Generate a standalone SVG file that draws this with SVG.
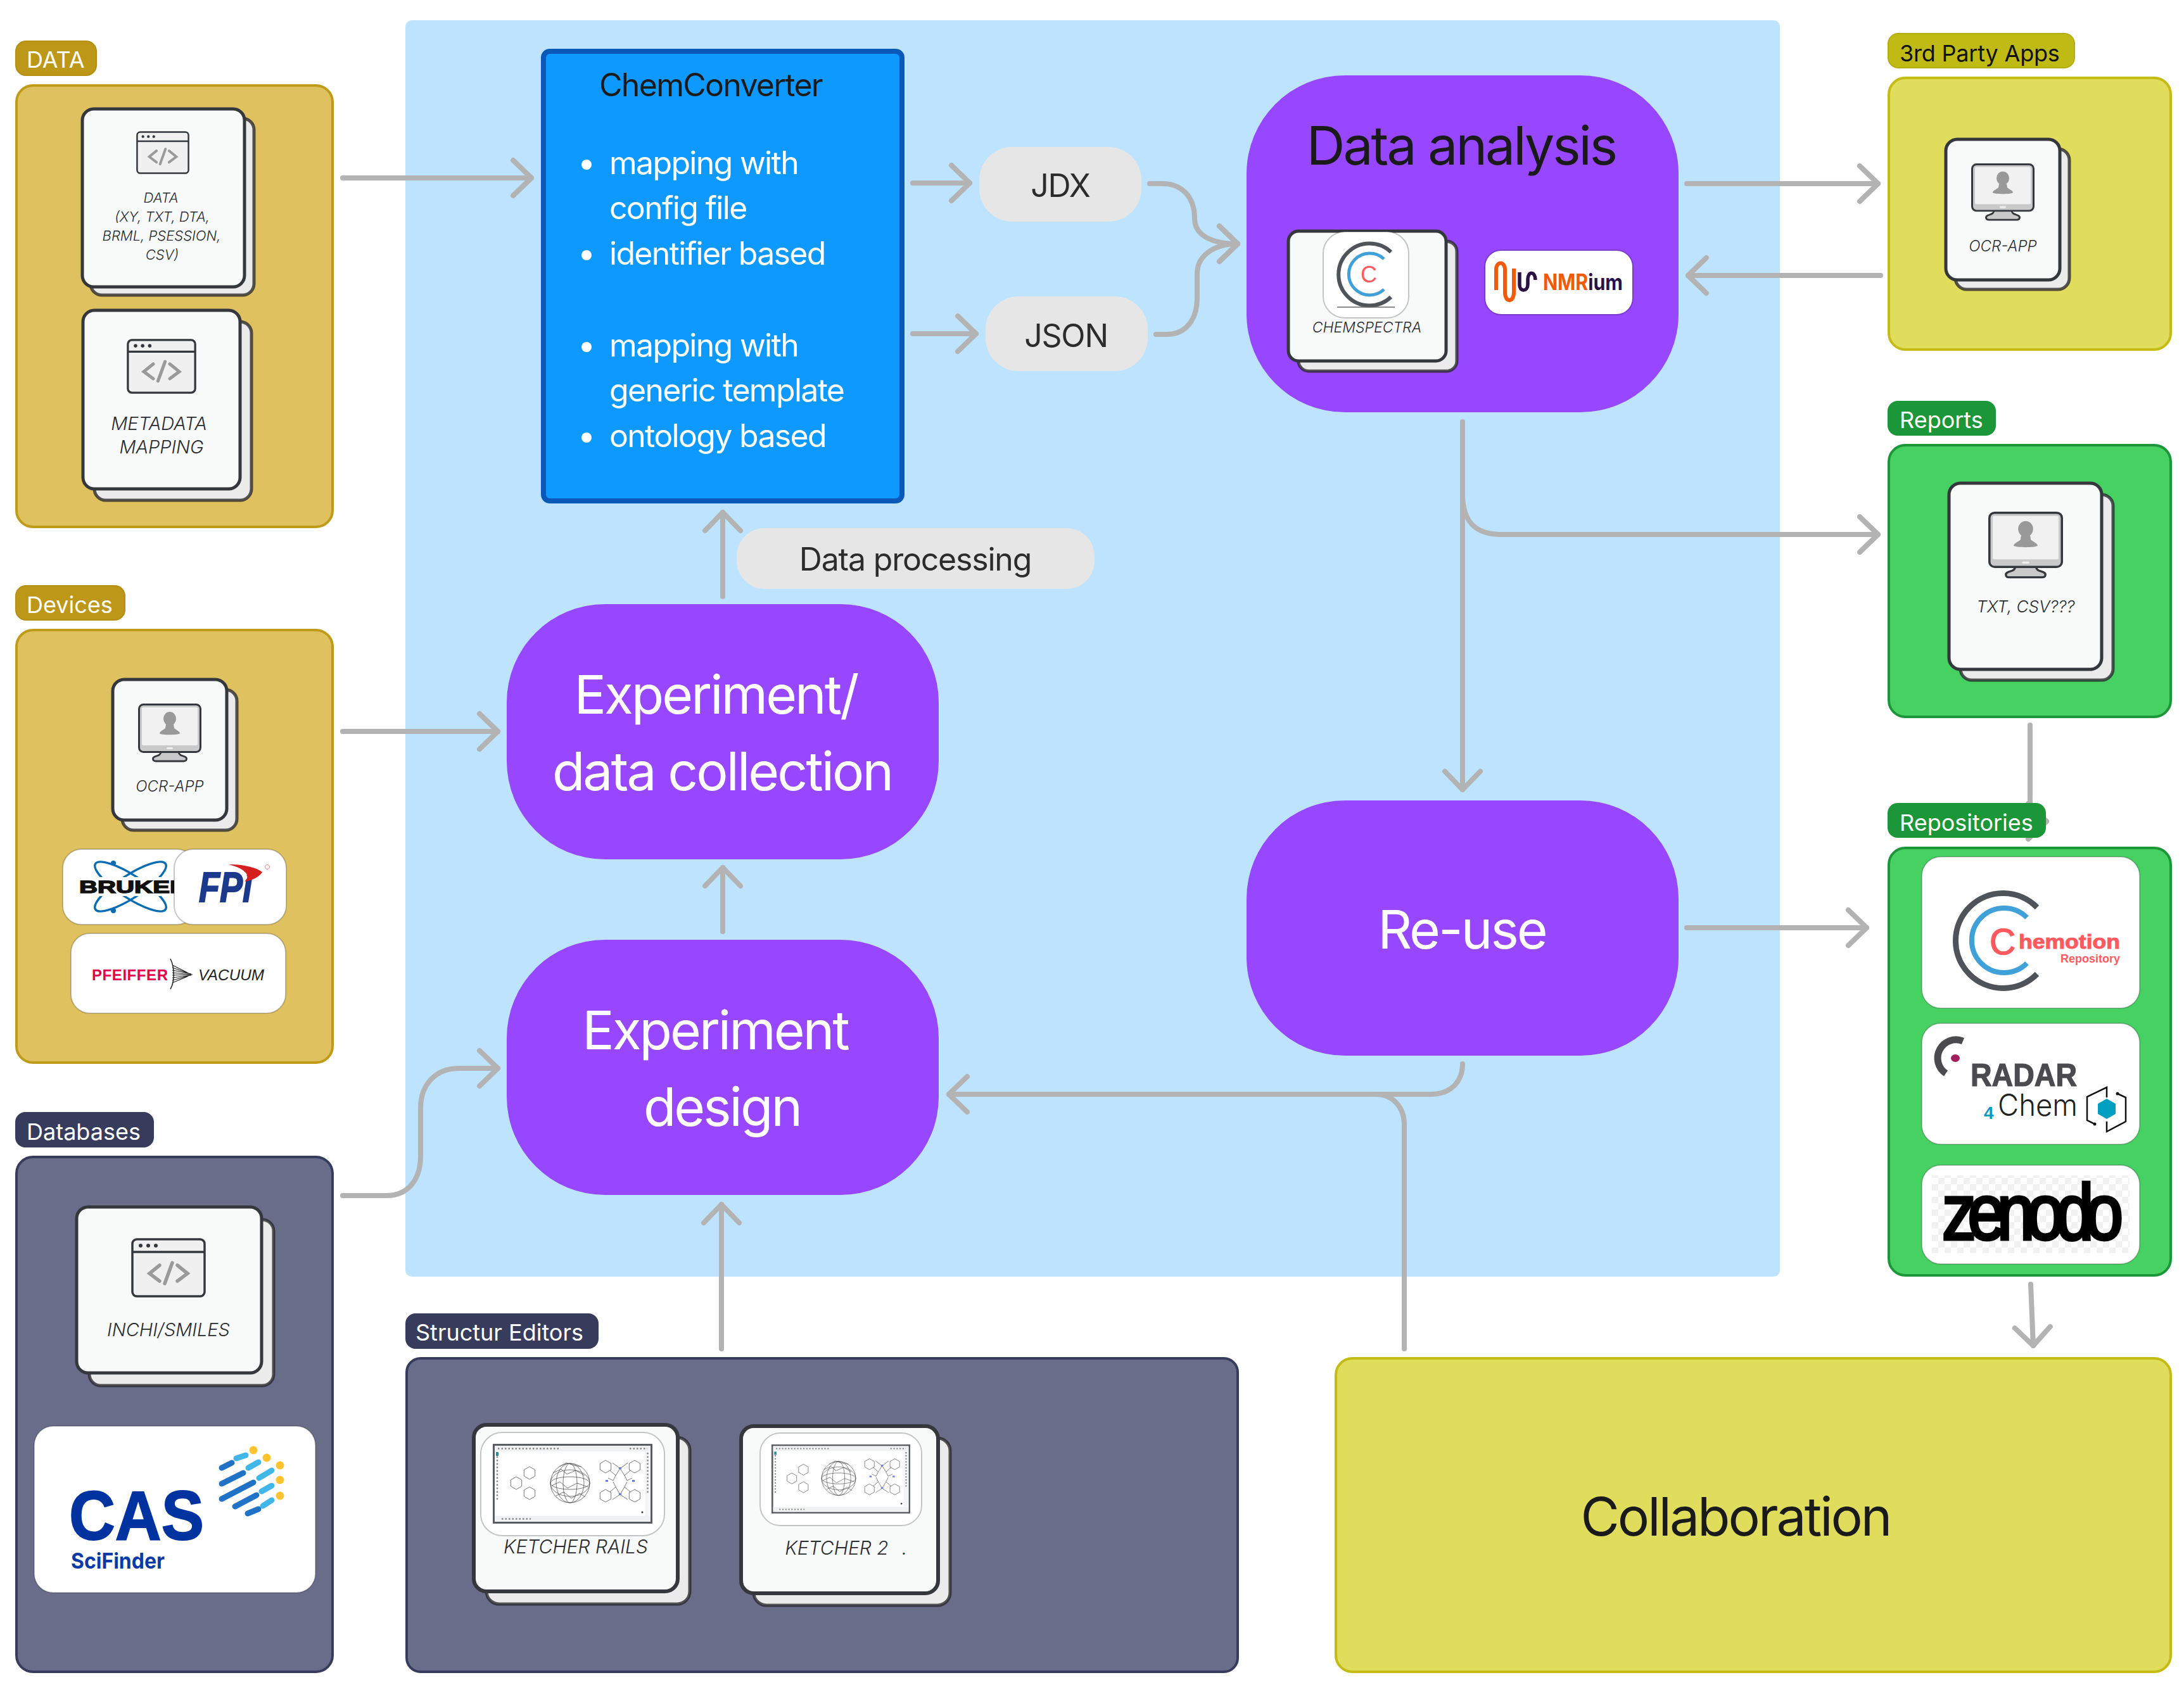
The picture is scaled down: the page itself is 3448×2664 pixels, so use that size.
<svg xmlns="http://www.w3.org/2000/svg" xmlns:xlink="http://www.w3.org/1999/xlink" width="3448" height="2664" viewBox="0 0 3448 2664">
<style>
text{font-family:"Inter","Liberation Sans",sans-serif}
.m{text-anchor:middle}
.tag{font-size:36px;fill:#fff}
.tagd{font-size:36px;fill:#111;letter-spacing:-.2px}
.cap{font-style:italic;font-weight:300;fill:#2a2c30;text-anchor:middle}
.box{stroke-width:4}
.gold{fill:#dfc25f;stroke:#bf9b18}.goldt{fill:#bd9818;stroke:#b39012;stroke-width:2}
.slate{fill:#696d8a;stroke:#383c5c}.slatet{fill:#383c5c}
.lime{fill:#e0dc5c;stroke:#c4bb14}.limet{fill:#c0bb14;stroke:#b3ae10;stroke-width:2}
.green{fill:#47d163;stroke:#1c9638}.greent{fill:#1b9638}
.proc{fill:#9747ff}
.ptext{font-size:84px;fill:#fff;text-anchor:middle;letter-spacing:-3px}
.pill{fill:#e6e6e6}
.ptx{font-size:50px;fill:#2c2c2c;text-anchor:middle;letter-spacing:-1.200px}
.back{fill:#ebebeb;stroke:#26262a;stroke-opacity:.78;stroke-width:5}
.front{fill:#f8fafa;stroke:#34373c;stroke-width:5}
.chip{fill:#fff;stroke:#000;stroke-opacity:.22;stroke-width:2}
.bul{font-size:50px;fill:#fff;letter-spacing:-1.700px}
.bd{fill:#fff}
.conn path{fill:none;stroke:#b3b3b3;stroke-width:8;stroke-linecap:round;stroke-linejoin:round}
.ar{marker-end:url(#arrow)}
.mol{fill:none;stroke:#555;stroke-width:.8}
</style>
<defs>
<marker id="arrow" markerUnits="userSpaceOnUse" viewBox="-36 -36 44 72" refX="0" refY="0" markerWidth="44" markerHeight="72" orient="auto">
<path d="M-29 -28L0 0L-29 28" fill="none" stroke="#b3b3b3" stroke-width="8" stroke-linecap="round" stroke-linejoin="round"/>
</marker>
<pattern id="check" width="20" height="20" patternUnits="userSpaceOnUse"><rect width="20" height="20" fill="#fff"/><rect width="10" height="10" fill="#f1f1f1"/><rect x="10" y="10" width="10" height="10" fill="#f1f1f1"/></pattern>
<symbol id="code" viewBox="0 0 118 94" preserveAspectRatio="none">
<rect x="2" y="2" width="114" height="90" rx="7" fill="#f0f0f0" stroke="#34373c" stroke-width="3.500"/>
<path d="M2 22H116" stroke="#34373c" stroke-width="3.500"/>
<circle cx="15" cy="12" r="3" fill="#34373c"/><circle cx="27" cy="12" r="3" fill="#34373c"/><circle cx="39" cy="12" r="3" fill="#34373c"/>
<path d="M45 43L29 56L45 68M73 43L89 56L73 68M65 39L53 72" fill="none" stroke="#9a9a9a" stroke-width="5.500" stroke-linecap="round"/>
</symbol>
<symbol id="monitor" viewBox="0 0 100 93" preserveAspectRatio="none">
<path d="M36 76C36 82 30 82 26 84C22 86 23 91 28 91H72C77 91 78 86 74 84C70 82 64 82 64 76Z" fill="#c9c9c9" stroke="#34373c" stroke-width="2.800"/>
<rect x="1.500" y="1.500" width="97" height="75" rx="7" fill="#c9c9c9" stroke="#34373c" stroke-width="3"/>
<rect x="6" y="6" width="88" height="60" rx="2" fill="#f1f1f1"/>
<rect x="45" y="69" width="10" height="3" rx="1.500" fill="#eee"/>
<ellipse cx="50" cy="24" rx="10" ry="11" fill="#999"/>
<path d="M44 33L43 39C38 43 34 44 34 47C34 50 66 50 66 47C66 44 62 43 57 39L56 33Z" fill="#999"/>
</symbol>
<path id="hex" d="M0 -10L8.700 -5V5L0 10L-8.700 5V-5Z"/>
<symbol id="ketcher" viewBox="0 0 252 126" preserveAspectRatio="none">
<rect x="1.500" y="1.500" width="249" height="123" fill="#fff" stroke="#5a5c64" stroke-width="3"/>
<rect x="3" y="3" width="246" height="9" fill="#f0f1f3"/>
<rect x="3" y="114" width="246" height="9" fill="#f0f1f3"/>
<rect x="240" y="12" width="9" height="102" fill="#f5f5f7"/>
<path d="M8 7.500H105M216 7.500H244M14 118.500H60" stroke="#888" stroke-width="2.500" stroke-dasharray="2.500 3" fill="none"/>
<path d="M7 14V90M244.500 14V80" stroke="#888" stroke-width="2.500" stroke-dasharray="2.500 3" fill="none"/>
<rect x="5" y="13" width="4" height="6" fill="#2a8b94"/>
<g class="mol">
<use href="#hex" x="58" y="46"/><use href="#hex" x="37" y="62"/><use href="#hex" x="58" y="78"/>
<circle cx="122" cy="62" r="31"/>
<ellipse cx="122" cy="62" rx="22" ry="31"/><ellipse cx="122" cy="62" rx="11" ry="31"/>
<ellipse cx="122" cy="62" rx="31" ry="21"/><ellipse cx="122" cy="62" rx="31" ry="10"/>
<path d="M95 46L108 40L117 48L131 42L145 50M93 66L106 60L118 70L133 62L150 68M100 82L112 76L124 86L137 78L146 84M105 36L116 30L128 34L140 36"/>
<use href="#hex" x="178" y="36"/><use href="#hex" x="224" y="36"/><use href="#hex" x="178" y="82"/><use href="#hex" x="224" y="82"/>
<path d="M185 42L194 50L190 58L182 54M217 42L208 50L212 58L220 54M185 76L194 68L190 60M217 76L208 68L212 60M189 30L201 39L213 30M189 88L201 80L213 88M194 50L201 39L208 50M194 68L201 80L208 68"/>
</g>
<g fill="#6a7df0"><rect x="199" y="37" width="4" height="3"/><rect x="199" y="78" width="4" height="3"/><rect x="178" y="57" width="4" height="3"/><rect x="220" y="57" width="4" height="3"/></g>
<circle cx="236" cy="108" r="1.500" fill="#333"/>
</symbol>
</defs>

<rect width="3448" height="2664" fill="#fff"/>
<rect id="main-area" x="640" y="32" width="2170" height="1984" rx="10" fill="#bde3ff"/>

<g id="chemconverter">
<rect x="858" y="81" width="566" height="710" rx="10" fill="#0d99ff" stroke="#0a58b8" stroke-width="8"/>
<text x="946" y="152" font-size="50" fill="#1a1a1a" letter-spacing="-1.700">ChemConverter</text>
<g class="bd"><circle cx="926" cy="260" r="8"/><circle cx="926" cy="403" r="8"/><circle cx="926" cy="548" r="8"/><circle cx="926" cy="691" r="8"/></g>
<g class="bul">
<text x="962" y="275">mapping with</text><text x="962" y="346">config file</text><text x="962" y="418">identifier based</text>
<text x="962" y="563">mapping with</text><text x="962" y="634">generic template</text><text x="962" y="706">ontology based</text>
</g>
</g>
<g id="jdx"><rect class="pill" x="1546" y="232" width="256" height="118" rx="52"/><text class="ptx" x="1674" y="311">JDX</text></g>
<g id="json"><rect class="pill" x="1556" y="468" width="256" height="118" rx="52"/><text class="ptx" x="1683" y="548">JSON</text></g>
<g id="data-processing"><rect class="pill" x="1163" y="834" width="565" height="96" rx="44"/><text class="ptx" x="1445" y="901">Data processing</text></g>

<g id="experiment"><rect class="proc" x="800" y="954" width="682" height="403" rx="155"/><text class="ptext" x="1130" y="1127">Experiment/</text><text class="ptext" x="1140" y="1248">data collection</text></g>
<g id="design"><rect class="proc" x="800" y="1484" width="682" height="403" rx="155"/><text class="ptext" x="1129" y="1657">Experiment</text><text class="ptext" x="1140" y="1778">design</text></g>
<g id="reuse"><rect class="proc" x="1968" y="1264" width="682" height="403" rx="155"/><text class="ptext" x="2308" y="1498">Re-use</text></g>
<g id="analysis">
<rect class="proc" x="1968" y="119" width="682" height="532" rx="155"/>
<text class="ptext" style="fill:#1a1a1a" x="2307" y="260">Data analysis</text>
<rect class="back" x="2050" y="381" width="250" height="205" rx="16"/>
<rect class="front" x="2034" y="365" width="249" height="205" rx="16"/>
<rect class="chip" x="2089" y="366" width="135" height="136" rx="34"/>
<path d="M2196 398A49 49 0 1 0 2196 469" fill="none" stroke="#4e5459" stroke-width="6"/>
<path d="M2185 409A33 33 0 1 0 2185 457" fill="none" stroke="#3fa1d8" stroke-width="5"/>
<text x="2161" y="446" class="m" font-size="36" fill="#ff5a5f" style="font-family:'Liberation Sans',sans-serif">C</text>
<path d="M2111 485H2202" stroke="#666" stroke-width="1.500"/>
<text class="cap" x="2158" y="525" font-size="23">CHEMSPECTRA</text>
<rect x="2344" y="395" width="234" height="102" rx="26" fill="#fff" stroke="#7a3bcc" stroke-width="2"/>
<path d="M2362 458V426C2362 412 2376 412 2376 426V462C2376 478 2390 478 2390 462V424" fill="none" stroke="#f05a0a" stroke-width="6"/>
<path d="M2399 430V450C2399 461 2412 461 2412 449V441C2412 428 2424 428 2424 442" fill="none" stroke="#2a1245" stroke-width="5.500"/>
<text x="2436" y="458" font-size="35" font-weight="700" textLength="126" lengthAdjust="spacingAndGlyphs"><tspan fill="#f05a0a">NMR</tspan><tspan fill="#2a1245">ium</tspan></text>
</g>

<g id="connectors" class="conn">
<path class="ar" d="M541 281H839"/>
<path class="ar" d="M1441 289H1531"/>
<path class="ar" d="M1441 527H1541"/>
<path class="ar" d="M1815 290H1835C1865 290 1886 310 1886 345C1886 370 1910 385 1954 385"/>
<path class="ar" d="M1825 528H1842C1872 528 1890 505 1890 470V432C1890 405 1915 385 1954 385"/>
<path class="ar" d="M1141 942V809"/>
<path class="ar" d="M1141 1471V1370"/>
<path class="ar" d="M1139 2130V1902"/>
<path class="ar" d="M541 1155H786"/>
<path class="ar" d="M541 1888H610C645 1888 664 1862 664 1825V1750C664 1712 688 1687 725 1687H786"/>
<path class="ar" d="M2663 290H2965"/>
<path class="ar" d="M2969 435H2665"/>
<path class="ar" d="M2309 666V1247"/>
<path class="ar" d="M2309 780C2309 825 2330 844 2370 844H2965"/>
<path class="ar" d="M2663 1465H2947"/>
<path class="ar" d="M2309 1680C2309 1708 2290 1728 2260 1728H1498"/>
<path d="M2217 2130V1775C2217 1750 2200 1728 2172 1728"/>
<path class="ar" d="M3205 1145V1262C3205 1285 3215 1297 3231 1297"/>
<path class="ar" d="M3206 2028L3210 2125"/>
</g>

<g id="data-group">
<rect class="box gold" x="26" y="135" width="499" height="697" rx="26"/>
<rect class="goldt" x="25" y="65" width="127" height="54" rx="16"/>
<text class="tag" x="42" y="107">DATA</text>
<rect class="back" x="143" y="187" width="258" height="279" rx="18"/>
<rect class="front" x="130" y="172" width="256" height="281" rx="18"/>
<use href="#code" x="215" y="207" width="84" height="68"/>
<g class="cap" font-size="22"><text x="254" y="320">DATA</text><text x="256" y="350">(XY, TXT, DTA,</text><text x="255" y="380">BRML, PSESSION,</text><text x="256" y="410">CSV)</text></g>
<rect class="back" x="149" y="508" width="248" height="282" rx="18"/>
<rect class="front" x="131" y="490" width="248" height="282" rx="18"/>
<use href="#code" x="200" y="535" width="110" height="87"/>
<g class="cap" font-size="29"><text x="251" y="679">METADATA</text><text x="255" y="716">MAPPING</text></g>
</g>

<g id="devices-group">
<rect class="box gold" x="26" y="995" width="499" height="683" rx="26"/>
<rect class="goldt" x="25" y="925" width="172" height="54" rx="16"/>
<text class="tag" x="42" y="968">Devices</text>
<rect class="back" x="193" y="1089" width="181" height="222" rx="18"/>
<rect class="front" x="178" y="1073" width="180" height="222" rx="18"/>
<use href="#monitor" x="218" y="1111" width="100" height="93"/>
<text class="cap" x="268" y="1250" font-size="24">OCR-APP</text>
<rect class="chip" x="99" y="1341" width="210" height="119" rx="30"/>
<g fill="none" stroke="#0a6db3" stroke-width="3.500"><ellipse cx="206" cy="1400" rx="66" ry="18" transform="rotate(33 206 1400)"/><ellipse cx="206" cy="1400" rx="66" ry="18" transform="rotate(-33 206 1400)"/></g>
<circle cx="179" cy="1363" r="4" fill="#0a6db3"/><circle cx="179" cy="1438" r="4" fill="#0a6db3"/>
<rect x="125" y="1385" width="170" height="30" fill="#fff"/>
<text x="125" y="1410" font-size="28" font-weight="700" fill="#111" stroke="#111" stroke-width="1.500" textLength="172" lengthAdjust="spacingAndGlyphs" style="font-family:'Liberation Sans',sans-serif">BRUKER</text>
<rect class="chip" x="275" y="1341" width="177" height="119" rx="30"/>
<text x="314" y="1424" font-size="66" font-weight="700" font-style="italic" fill="#1c3a8c" stroke="#1c3a8c" stroke-width="2" textLength="84" lengthAdjust="spacingAndGlyphs" style="font-family:'Liberation Sans',sans-serif">FPi</text>
<path d="M361 1365C388 1365 406 1371 414 1377C410 1385 396 1391 386 1392C396 1385 390 1372 361 1365Z" fill="#d62020"/>
<circle cx="422" cy="1369" r="3.500" fill="none" stroke="#e88" stroke-width="1"/>
<rect class="chip" x="112" y="1474" width="339" height="126" rx="30"/>
<text x="145" y="1548" font-size="24" font-weight="700" fill="#e6004c" textLength="120" style="font-family:'Liberation Sans',sans-serif">PFEIFFER</text>
<path d="M269 1514C276 1528 276 1550 269 1562" fill="none" stroke="#222" stroke-width="1.500"/>
<g stroke="#222" stroke-width="1.200"><path d="M272 1524L296 1536M272 1528L298 1537M272 1532L302 1538M272 1536L304 1539M272 1540L304 1539M272 1544L302 1540M272 1548L298 1541M272 1552L296 1542"/></g>
<text x="313" y="1548" font-size="24" font-style="italic" fill="#222" textLength="104" lengthAdjust="spacingAndGlyphs" style="font-family:'Liberation Sans',sans-serif">VACUUM</text>
</g>

<g id="databases-group">
<rect class="box slate" x="26" y="1827" width="499" height="813" rx="26"/>
<rect class="slatet" x="24" y="1756" width="219" height="56" rx="16"/>
<text class="tag" x="42" y="1800">Databases</text>
<rect class="back" x="141" y="1926" width="291" height="262" rx="18"/>
<rect class="front" x="121" y="1906" width="292" height="262" rx="18"/>
<use href="#code" x="207" y="1955" width="118" height="94"/>
<text class="cap" x="266" y="2110" font-size="29">INCHI/SMILES</text>
<rect class="chip" x="54" y="2252" width="444" height="263" rx="30"/>
<text x="109" y="2431" font-size="110" font-weight="700" fill="#0033a0" stroke="#0033a0" stroke-width="2" textLength="213" lengthAdjust="spacingAndGlyphs" style="font-family:'Liberation Sans',sans-serif">CAS</text>
<text x="112" y="2477" font-size="34" font-weight="700" fill="#0a3aa5" textLength="148" lengthAdjust="spacingAndGlyphs">SciFinder</text>
<g fill="none" stroke-width="9" stroke-linecap="round">
<path stroke="#1f72c6" d="M350 2318L366 2310M350 2343L384 2326M350 2367L400 2341M371 2379L405 2361M391 2390L408 2383"/>
<path stroke="#41b6e8" d="M373 2303L388 2298M392 2318L408 2309M409 2334L429 2322M413 2355L429 2346M415 2378L429 2369"/>
</g>
<g fill="#fec32d"><circle cx="400" cy="2290" r="6.500"/><circle cx="421" cy="2302" r="6.500"/><circle cx="442" cy="2314" r="6.500"/><circle cx="442" cy="2337" r="6.500"/><circle cx="442" cy="2362" r="6.500"/></g>
</g>

<g id="editors-group">
<rect class="box slate" x="642" y="2145" width="1312" height="495" rx="22"/>
<rect class="slatet" x="640" y="2074" width="305" height="56" rx="16"/>
<text class="tag" x="656" y="2117">Structur Editors</text>
<rect class="back" x="768" y="2270" width="321" height="263" rx="20"/>
<rect class="front" x="748" y="2250" width="322" height="263" rx="20" style="stroke-width:6"/>
<rect class="chip" x="759" y="2262" width="290" height="163" rx="34"/>
<use href="#ketcher" x="778" y="2280" width="252" height="126"/>
<text class="cap" x="909" y="2453" font-size="30">KETCHER RAILS</text>
<rect class="back" x="1190" y="2271" width="310" height="264" rx="20"/>
<rect class="front" x="1170" y="2252" width="311" height="264" rx="20" style="stroke-width:6"/>
<rect class="chip" x="1200" y="2263" width="255" height="146" rx="32"/>
<use href="#ketcher" x="1218" y="2281" width="219" height="109"/>
<text class="cap" x="1321" y="2455" font-size="30">KETCHER 2</text>
<text class="cap" x="1428" y="2455" font-size="30">.</text>
</g>

<g id="collaboration">
<rect class="box lime" x="2109" y="2145" width="1318" height="495" rx="26"/>
<text x="2740" y="2425" class="m" font-size="84" fill="#1a1a1a" letter-spacing="-3">Collaboration</text>
</g>

<g id="third-party-group">
<rect class="box lime" x="2982" y="123" width="445" height="429" rx="26"/>
<rect class="limet" x="2981" y="53" width="294" height="54" rx="16"/>
<text class="tagd" x="2999" y="97">3rd Party Apps</text>
<rect class="back" x="3087" y="235" width="180" height="222" rx="18"/>
<rect class="front" x="3072" y="220" width="180" height="222" rx="18"/>
<use href="#monitor" x="3112" y="258" width="100" height="91"/>
<text class="cap" x="3162" y="397" font-size="24">OCR-APP</text>
</g>

<g id="reports-group">
<rect class="box green" x="2982" y="703" width="445" height="429" rx="26"/>
<rect class="greent" x="2980" y="633" width="171" height="55" rx="16"/>
<text class="tag" x="2999" y="676">Reports</text>
<rect class="back" x="3095" y="781" width="241" height="293" rx="18"/>
<rect class="front" x="3077" y="763" width="241" height="294" rx="18"/>
<use href="#monitor" x="3139" y="808" width="118" height="106"/>
<text class="cap" x="3198" y="967" font-size="26">TXT, CSV???</text>
</g>

<g id="repositories-group">
<rect class="box green" x="2982" y="1339" width="445" height="675" rx="26"/>
<rect class="greent" x="2980" y="1268" width="250" height="55" rx="16"/>
<text class="tag" x="2999" y="1312">Repositories</text>
<rect class="chip" x="3034" y="1353" width="344" height="239" rx="30"/>
<path d="M3216 1433A75 75 0 1 0 3216 1538" fill="none" stroke="#4e5459" stroke-width="9"/>
<path d="M3200 1449A51 51 0 1 0 3200 1521" fill="none" stroke="#3fa1d8" stroke-width="8"/>
<g fill="#ff5a5f">
<text x="3141" y="1507" font-size="57" stroke="#ff5a5f" stroke-width="1.500" style="font-family:'Liberation Sans',sans-serif">C</text>
<text x="3187" y="1498" font-size="32" font-weight="700" stroke="#ff5a5f" stroke-width="1" textLength="160" lengthAdjust="spacingAndGlyphs" style="font-family:'Liberation Sans',sans-serif">hemotion</text>
<text x="3253" y="1520" font-size="18" font-weight="700" textLength="94" lengthAdjust="spacingAndGlyphs" style="font-family:'Liberation Sans',sans-serif">Repository</text>
</g>
<rect class="chip" x="3034" y="1616" width="344" height="191" rx="30"/>
<path d="M3099 1644A29 29 0 0 0 3072 1695" fill="none" stroke="#4a4a4f" stroke-width="11"/>
<ellipse cx="3087" cy="1671" rx="7" ry="6" fill="#a21f5a"/>
<text x="3111" y="1715" font-size="50" font-weight="700" fill="#4a4a4f" stroke="#4a4a4f" stroke-width="1.200" textLength="168" lengthAdjust="spacingAndGlyphs" style="font-family:'Liberation Sans',sans-serif">RADAR</text>
<text x="3132" y="1767" font-size="28" font-weight="700" fill="#0a9bc0" style="font-family:'Liberation Sans',sans-serif">4</text>
<text x="3154" y="1762" font-size="48" font-weight="300" fill="#222" textLength="126" lengthAdjust="spacingAndGlyphs">Chem</text>
<polygon points="3326,1735 3340,1743 3340,1759 3326,1767 3312,1759 3312,1743" fill="#009fc2"/>
<path d="M3326 1733V1717L3295 1732V1769L3307 1775M3326 1771V1787L3356 1771V1733L3343 1727" fill="none" stroke="#111" stroke-width="2.500"/>
<circle cx="3343" cy="1727" r="2.500" fill="#111"/><circle cx="3307" cy="1775" r="2.500" fill="#111"/>
<rect class="chip" x="3034" y="1840" width="344" height="156" rx="30"/>
<rect x="3050" y="1856" width="312" height="123" fill="url(#check)"/>
<text transform="translate(3066 1957) scale(.86 1)" font-size="125" letter-spacing="-15.500" fill="#000" stroke="#000" stroke-width="5" style="font-family:'Liberation Sans',sans-serif">zenodo</text>
</g>
</svg>
